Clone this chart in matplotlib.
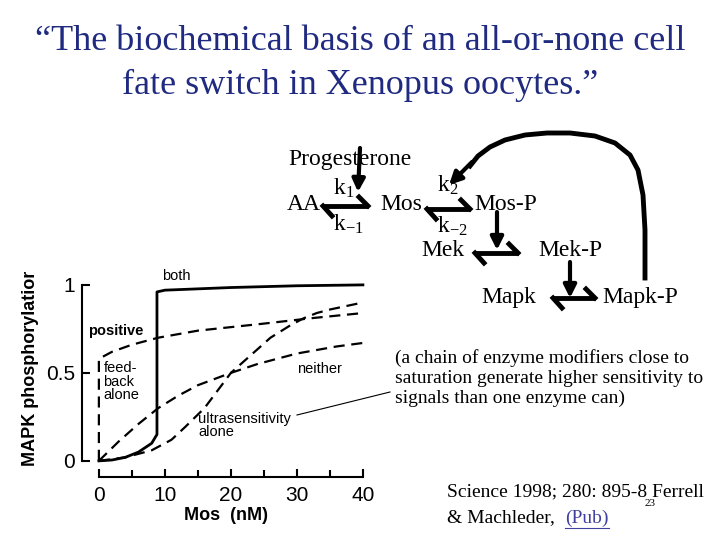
import matplotlib
matplotlib.use("Agg")
import matplotlib.pyplot as plt
from matplotlib.patches import FancyArrowPatch

plt.rcParams["mathtext.fontset"] = "custom"
plt.rcParams["mathtext.rm"] = "Liberation Serif"
plt.rcParams["mathtext.it"] = "Liberation Serif:italic"

both_x = [0, 2, 4, 6, 8, 8.8, 8.8, 10, 20, 30, 40]
both_y = [0, 0.005, 0.02, 0.05, 0.1, 0.15, 0.96, 0.97, 0.985, 0.995, 1.0]
fb_x = [0, 0, 1, 2, 3.5, 5, 7, 9, 12, 15, 20, 25, 32, 40]
fb_y = [0, 0.58, 0.6, 0.62, 0.64, 0.66, 0.68, 0.70, 0.72, 0.74, 0.76, 0.78, 0.81, 0.84]
nei_x = [0, 3, 6, 9, 12, 15, 20, 24, 27, 30, 33, 36, 40]
nei_y = [0, 0.11, 0.21, 0.3, 0.37, 0.43, 0.5, 0.55, 0.58, 0.61, 0.63, 0.65, 0.67]
us_x = [0, 4, 8, 11, 13, 16, 18, 20, 23, 26, 29, 31, 33, 35, 40]
us_y = [0, 0.02, 0.06, 0.12, 0.19, 0.3, 0.4, 0.5, 0.6, 0.7, 0.77, 0.81, 0.84, 0.86, 0.9]
xticks = [0, 10, 20, 30, 40]
yticks = [0, 0.5, 1]
ytick_labels = ["0", "0.5", "1"]

fig = plt.figure(figsize=(7.2, 5.4), dpi=100)
serif = "Liberation Serif"
sans = "Liberation Sans"

ax = fig.add_axes([0.1135, 0.1172, 0.3997, 0.3813])
ax.plot(both_x, both_y, color="black", lw=2)
for xs, ys in [(fb_x, fb_y), (nei_x, nei_y), (us_x, us_y)]:
    ax.plot(xs, ys, color="black", lw=1.6, dashes=(5, 3))
ax.set_xlim(-2.6, 41)
ax.set_ylim(-0.09, 1.08)
for s in ["top", "right"]:
    ax.spines[s].set_visible(False)
ax.spines["left"].set_bounds(0, 1)
ax.spines["bottom"].set_bounds(0, 40)
ax.spines["left"].set_linewidth(1.5)
ax.spines["bottom"].set_linewidth(1.5)
ax.set_xticks(xticks)
ax.set_xticks(range(0, 41, 5), minor=True)
ax.set_yticks(yticks)
ax.set_yticklabels(ytick_labels)
ax.tick_params(direction="in", length=6, width=1.5, labelsize=15, pad=7)
ax.tick_params(axis="y", pad=5)
ax.tick_params(which="minor", direction="in", length=5, width=1.5)
for lab in ax.get_xticklabels() + ax.get_yticklabels():
    lab.set_fontfamily(sans)
ax.set_xlabel("Mos  (nM)", fontsize=13, fontweight="bold", family=sans, labelpad=1)
ax.text(9.5, 1.03, "both", fontsize=10.5, family=sans)
ax.text(0.7, 0.35, "feed-\nback\nalone", fontsize=10.5, family=sans, linespacing=0.95)
ax.text(30, 0.5, "neither", fontsize=10.5, family=sans)
ax.text(15, 0.14, "ultrasensitivity\nalone", fontsize=10.5, family=sans, linespacing=0.95)

o = fig.add_axes([0, 0, 1, 1], facecolor="none")
o.set_xlim(0, 720); o.set_ylim(540, 0); o.axis("off")

o.text(31, 368, "MAPK phosphorylatior", rotation=90, ha="center", va="center",
       fontsize=13, fontweight="bold", family=sans)
o.text(88, 331, "positive", fontsize=10.5, fontweight="bold", family=sans, va="center")

o.text(360, 42, "\u201cThe biochemical basis of an all-or-none cell", ha="center", va="center",
       fontsize=26, family=serif, color="#1f2a80")
o.text(360, 85, "fate switch in Xenopus oocytes.\u201d", ha="center", va="center",
       fontsize=26, family=serif, color="#1f2a80")

def t(x, y, s, fs=17):
    o.text(x, y, s, fontsize=fs, family=serif, va="center")
t(288, 159, "Progesterone")
t(287, 205, "AA")
t(333, 188, "k$_1$")
t(380, 205, "Mos")
t(333, 224, "k$_{-1}$")
t(437, 185, "k$_2$")
t(474, 205, "Mos-P")
t(437, 226, "k$_{-2}$")
t(421, 250, "Mek")
t(538, 250, "Mek-P")
t(481, 297, "Mapk")
t(602, 297, "Mapk-P")

def rev(x1, x2, y):
    o.plot([x1, x2], [y, y], color="black", lw=3.5, solid_capstyle="butt")
    o.plot([x2, x2 - 9], [y, y - 9], color="black", lw=3.5)
    o.plot([x1, x1 + 9], [y, y + 10], color="black", lw=3.5)
rev(323, 368, 206)
rev(427, 470, 209)
rev(475, 518, 253)
rev(553, 595, 298)

def arrow(x1, y1, x2, y2):
    o.add_patch(FancyArrowPatch((x1, y1), (x2, y2), arrowstyle="-|>,head_length=5,head_width=2.5",
                                lw=3, color="black", mutation_scale=1.5, shrinkA=0, shrinkB=0))
arrow(360, 148, 358, 192)
arrow(497, 212, 497, 250)
arrow(570, 262, 570, 298)
o.plot([645, 645, 643, 638, 630, 615, 595, 570, 547, 525, 505, 490, 478, 470],
       [278, 230, 195, 170, 155, 143, 136, 133, 133, 135, 140, 147, 156, 166], color="black", lw=3.5)
arrow(472, 162, 449, 185)

o.text(395, 378, "(a chain of enzyme modifiers close to\nsaturation generate higher sensitivity to\nsignals than one enzyme can)",
       fontsize=14, family=serif, va="center", linespacing=1.2)
o.plot([297, 390], [415, 392], color="black", lw=0.8)

o.text(447, 492, "Science 1998; 280: 895-8 Ferrell", fontsize=14, family=serif, va="center")
o.text(645, 504, "23", fontsize=8, family=serif, va="center")
o.text(447, 518, "& Machleder, ", fontsize=14, family=serif, va="center")
o.text(565, 518, "(Pub)", fontsize=14, family=serif, va="center", color="#4040a0")
o.plot([565, 609], [528, 528], color="#4040a0", lw=0.8)

fig.savefig("out.png", dpi=100)
